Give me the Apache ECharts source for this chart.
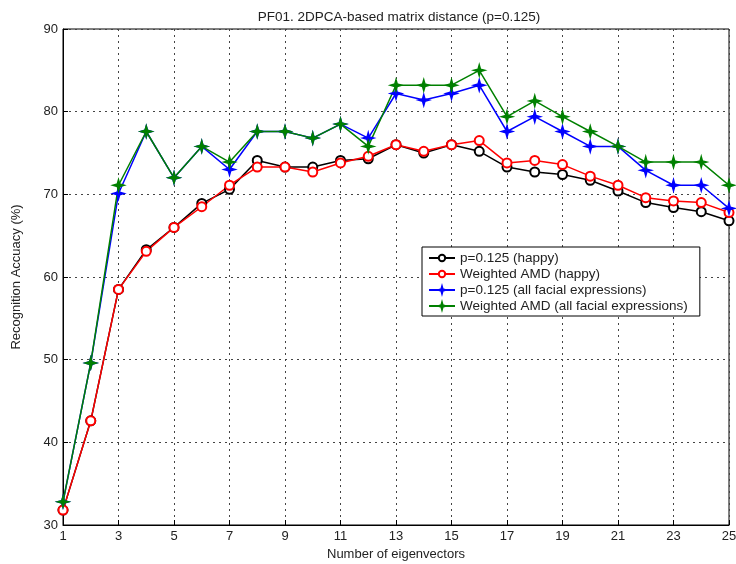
<!DOCTYPE html>
<html>
<head>
<meta charset="utf-8">
<script src="https://cdn.jsdelivr.net/npm/echarts@6/dist/echarts.min.js"></script>
<style>
  html, body { margin: 0; padding: 0; background: #fff; }
  #chart { width: 736px; height: 564px; }
</style>
</head>
<body>
<div id="chart"></div>
<script>
// number of eigenvectors
var eigenCounts = [1,2,3,4,5,6,7,8,9,10,11,12,13,14,15,16,17,18,19,20,21,22,23,24,25];

// recognition accuracy (%)
var happyP0125 = [31.8,42.6,58.5,63.3,66.0,68.9,70.6,74.1,73.3,73.3,74.1,74.3,76.0,75.0,76.0,75.2,73.3,72.7,72.4,71.7,70.4,69.0,68.4,67.9,66.8];
var happyWeighted = [31.8,42.6,58.5,63.1,66.0,68.5,71.1,73.3,73.3,72.7,73.8,74.6,76.0,75.2,76.0,76.5,73.8,74.1,73.6,72.2,71.1,69.6,69.2,69.0,67.8];
var allP0125 = [32.8,49.6,70.1,77.6,72.0,75.8,73.0,77.6,77.6,76.8,78.5,76.8,82.2,81.4,82.2,83.2,77.6,79.4,77.6,75.8,75.8,72.9,71.1,71.1,68.3];
var allWeighted = [32.8,49.6,71.1,77.6,72.0,75.8,73.9,77.6,77.6,76.8,78.5,75.8,83.2,83.2,83.2,85.0,79.4,81.3,79.4,77.6,75.8,73.9,73.9,73.9,71.1];

var seriesNames = ['p=0.125 (happy)', 'Weighted AMD (happy)', 'p=0.125 (all facial expressions)', 'Weighted AMD (all facial expressions)'];

(function(){
    var chart = echarts.init(document.getElementById('chart'));
    var font = 'Arial, "Liberation Sans", Helvetica, sans-serif';
    var star = 'path://M0,-10 L2.2,-2.2 L10,0 L2.2,2.2 L0,10 L-2.2,2.2 L-10,0 L-2.2,-2.2 Z';
    var dotted = { color: '#444', type: [2, 4], width: 1 };

    function mk(name, data, color, symbol, size) {
        return {
            name: name,
            type: 'line',
            data: data,
            symbol: symbol,
            symbolSize: size,
            lineStyle: { color: color, width: 1.5 },
            itemStyle: { color: color, borderColor: color, borderWidth: 1.5 },
            emphasis: { disabled: true },
            animation: false
        };
    }

    var option = {
        backgroundColor: '#fff',
        animation: false,
        title: {
            text: 'PF01. 2DPCA-based matrix distance (p=0.125)',
            left: 394, top: 5, textAlign: 'center',
            textStyle: { fontFamily: font, fontSize: 13.5, fontWeight: 'normal', color: '#222' }
        },
        grid: {
            left: 63, right: 7, top: 29, bottom: 39,
            outerBoundsMode: 'none',
            containLabel: false,
            show: true, borderColor: '#000', borderWidth: 1, backgroundColor: '#fff'
        },
        legend: {
            data: seriesNames,
            orient: 'vertical',
            left: 422, top: 247,
            backgroundColor: '#fff',
            borderColor: '#000', borderWidth: 1,
            padding: [4, 12, 3, 6],
            itemGap: 2,
            itemWidth: 26, itemHeight: 8,
            textStyle: { fontFamily: font, fontSize: 13.5, color: '#222' }
        },
        xAxis: {
            type: 'category',
            data: eigenCounts,
            boundaryGap: false,
            name: 'Number of eigenvectors',
            nameLocation: 'middle',
            nameGap: 22,
            nameTextStyle: { fontFamily: font, fontSize: 13, color: '#222' },
            axisLine: { show: true, lineStyle: { color: '#000' } },
            axisTick: { show: true, inside: true, interval: 1, length: 5, lineStyle: { color: '#000' } },
            axisLabel: { interval: 1, margin: 5, fontFamily: font, fontSize: 13, color: '#222' },
            splitLine: { show: true, interval: 1, lineStyle: dotted }
        },
        yAxis: {
            type: 'value',
            min: 30, max: 90, interval: 10,
            name: 'Recognition Accuacy (%)',
            nameLocation: 'middle',
            nameGap: 40,
            nameTextStyle: { fontFamily: font, fontSize: 13, color: '#222' },
            axisLine: { show: true, lineStyle: { color: '#000' } },
            axisTick: { show: true, inside: true, length: 5, lineStyle: { color: '#000' } },
            axisLabel: { margin: 5, fontFamily: font, fontSize: 13, color: '#222' },
            splitLine: { show: true, lineStyle: dotted }
        },
        series: [
            mk(seriesNames[0], happyP0125, '#000000', 'emptyCircle', 9),
            mk(seriesNames[1], happyWeighted, '#ff0000', 'emptyCircle', 9),
            mk(seriesNames[2], allP0125, '#0000ff', star, 11),
            mk(seriesNames[3], allWeighted, '#008000', star, 11)
        ]
    };
    chart.setOption(option, true);
})();
</script>
</body>
</html>
